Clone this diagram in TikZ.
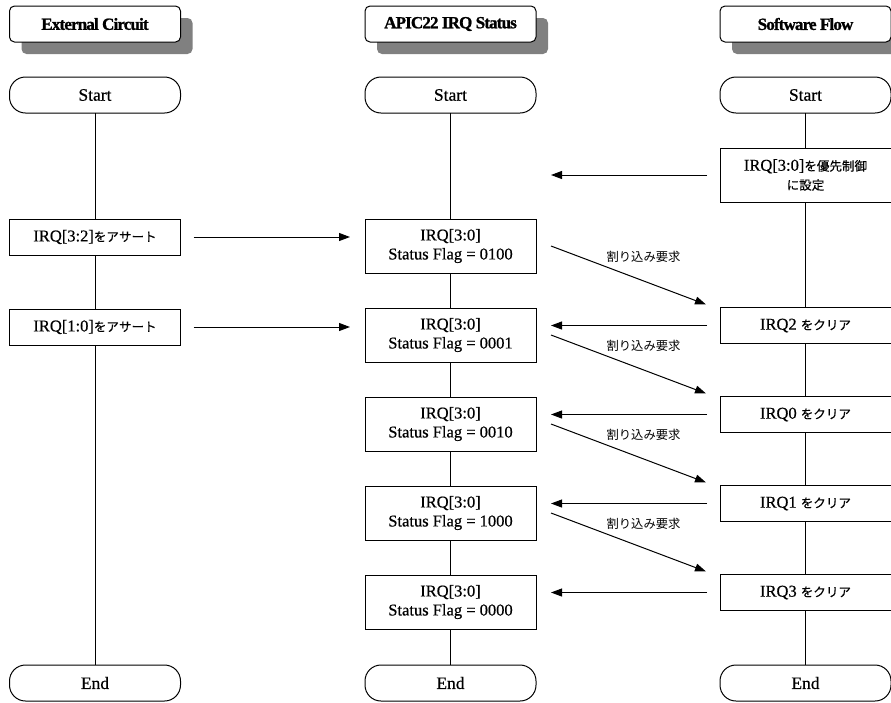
\documentclass[tikz,border=0pt]{standalone}
\usepackage{fontspec}
\setmainfont{Liberation Serif}
\newfontfamily\bodyfont[FakeBold=0.5]{Liberation Serif}
\newfontfamily\jp[Scale=0.76,FakeBold=0.3]{Noto Sans CJK JP}
\newfontfamily\jplabel{Noto Sans CJK JP}
\newfontfamily\hdrfont[LetterSpace=-5,FakeBold=1.2]{Liberation Serif Bold}
\usetikzlibrary{arrows.meta,shadows}
\begin{document}
\begin{tikzpicture}[x=1pt,y=-1pt,
  every node/.style={inner sep=0pt, outer sep=0pt},
  hdr/.style={draw, line width=1pt, rounded corners=5pt, fill=white,
    minimum width=171pt, minimum height=36pt,
    font=\hdrfont\fontsize{17}{19}\selectfont,
    drop shadow={shadow xshift=12pt, shadow yshift=-12pt, fill=black!50, opacity=1}},
  term/.style={draw, line width=1pt, rounded corners=16pt, fill=white,
    minimum width=171pt, minimum height=36pt,
    font=\bodyfont\fontsize{17.5}{19}\selectfont},
  proc/.style={draw, line width=1pt, fill=white, align=center,
    minimum width=171pt, minimum height=36pt,
    font=\bodyfont\fontsize{16.5}{19}\selectfont},
  proc2/.style={proc, minimum height=54pt},
  flow/.style={line width=1pt},
  msg/.style={line width=1pt, -{Triangle[length=11pt,width=8pt]}},
  lbl/.style={font=\jplabel\fontsize{12.3}{14}\selectfont}
]
\useasboundingbox (0,0) rectangle (891,702);
% headers
\node[hdr] (h1) at (95,24) {External Circuit};
\node[hdr] (h2) at (450.5,24) {APIC22 IRQ Status};
\node[hdr] (h3) at (805.5,24) {Software Flow};
% terminals
\node[term] (s1) at (95,95) {Start};
\node[term] (s2) at (450.5,95) {Start};
\node[term] (s3) at (805.5,95) {Start};
\node[term] (e1) at (95,683) {End};
\node[term] (e2) at (450.5,683) {End};
\node[term] (e3) at (805.5,683) {End};
% left column
\node[proc] (l1) at (95,237) {IRQ[3:2]{\jp をアサート}};
\node[proc] (l2) at (95,327) {IRQ[1:0]{\jp をアサート}};
% middle column
\node[proc2] (m1) at (450.5,246) {IRQ[3:0]\\Status Flag = 0100};
\node[proc2] (m2) at (450.5,335) {IRQ[3:0]\\Status Flag = 0001};
\node[proc2] (m3) at (450.5,424) {IRQ[3:0]\\Status Flag = 0010};
\node[proc2] (m4) at (450.5,513) {IRQ[3:0]\\Status Flag = 1000};
\node[proc2] (m5) at (450.5,602) {IRQ[3:0]\\Status Flag = 0000};
% right column
\node[proc2] (r1) at (805.5,175) {IRQ[3:0]{\jp を優先制御}\\{\jp に設定}};
\node[proc] (r2) at (805.5,325.5) {IRQ2 {\jp をクリア}};
\node[proc] (r3) at (805.5,414.5) {IRQ0 {\jp をクリア}};
\node[proc] (r4) at (805.5,503.5) {IRQ1 {\jp をクリア}};
\node[proc] (r5) at (805.5,592.5) {IRQ3 {\jp をクリア}};
% lifelines
\draw[flow] (s1) -- (l1);
\draw[flow] (l1) -- (l2);
\draw[flow] (l2) -- (e1);
\draw[flow] (s2) -- (m1);
\draw[flow] (m1) -- (m2);
\draw[flow] (m2) -- (m3);
\draw[flow] (m3) -- (m4);
\draw[flow] (m4) -- (m5);
\draw[flow] (m5) -- (e2);
\draw[flow] (s3) -- (r1);
\draw[flow] (r1) -- (r2);
\draw[flow] (r2) -- (r3);
\draw[flow] (r3) -- (r4);
\draw[flow] (r4) -- (r5);
\draw[flow] (r5) -- (e3);
% external to APIC
\draw[msg, shorten <=13pt, shorten >=15pt] (l1.east) -- (l1.east -| m1.west);
\draw[msg, shorten <=13pt, shorten >=15pt] (l2.east) -- (l2.east -| m2.west);
% software to APIC
\draw[msg, shorten <=13pt, shorten >=15pt] (r1.west) -- (r1.west -| m1.east);
\draw[msg, shorten <=13pt, shorten >=15pt] (r2.west) -- (r2.west -| m2.east);
\draw[msg, shorten <=13pt, shorten >=15pt] (r3.west) -- (r3.west -| m3.east);
\draw[msg, shorten <=13pt, shorten >=15pt] (r4.west) -- (r4.west -| m4.east);
\draw[msg, shorten <=13pt, shorten >=15pt] (r5.west) -- (r5.west -| m5.east);
% interrupt requests
\draw[msg] ([xshift=15pt]m1.east) -- node[lbl, xshift=15pt, yshift=18pt] {割り込み要求} ([xshift=-14pt,yshift=3pt]r2.north west);
\draw[msg] ([xshift=15pt]m2.east) -- node[lbl, xshift=15pt, yshift=18pt] {割り込み要求} ([xshift=-14pt,yshift=3pt]r3.north west);
\draw[msg] ([xshift=15pt]m3.east) -- node[lbl, xshift=15pt, yshift=18pt] {割り込み要求} ([xshift=-14pt,yshift=3pt]r4.north west);
\draw[msg] ([xshift=15pt]m4.east) -- node[lbl, xshift=15pt, yshift=18pt] {割り込み要求} ([xshift=-14pt,yshift=3pt]r5.north west);
\end{tikzpicture}
\end{document}
